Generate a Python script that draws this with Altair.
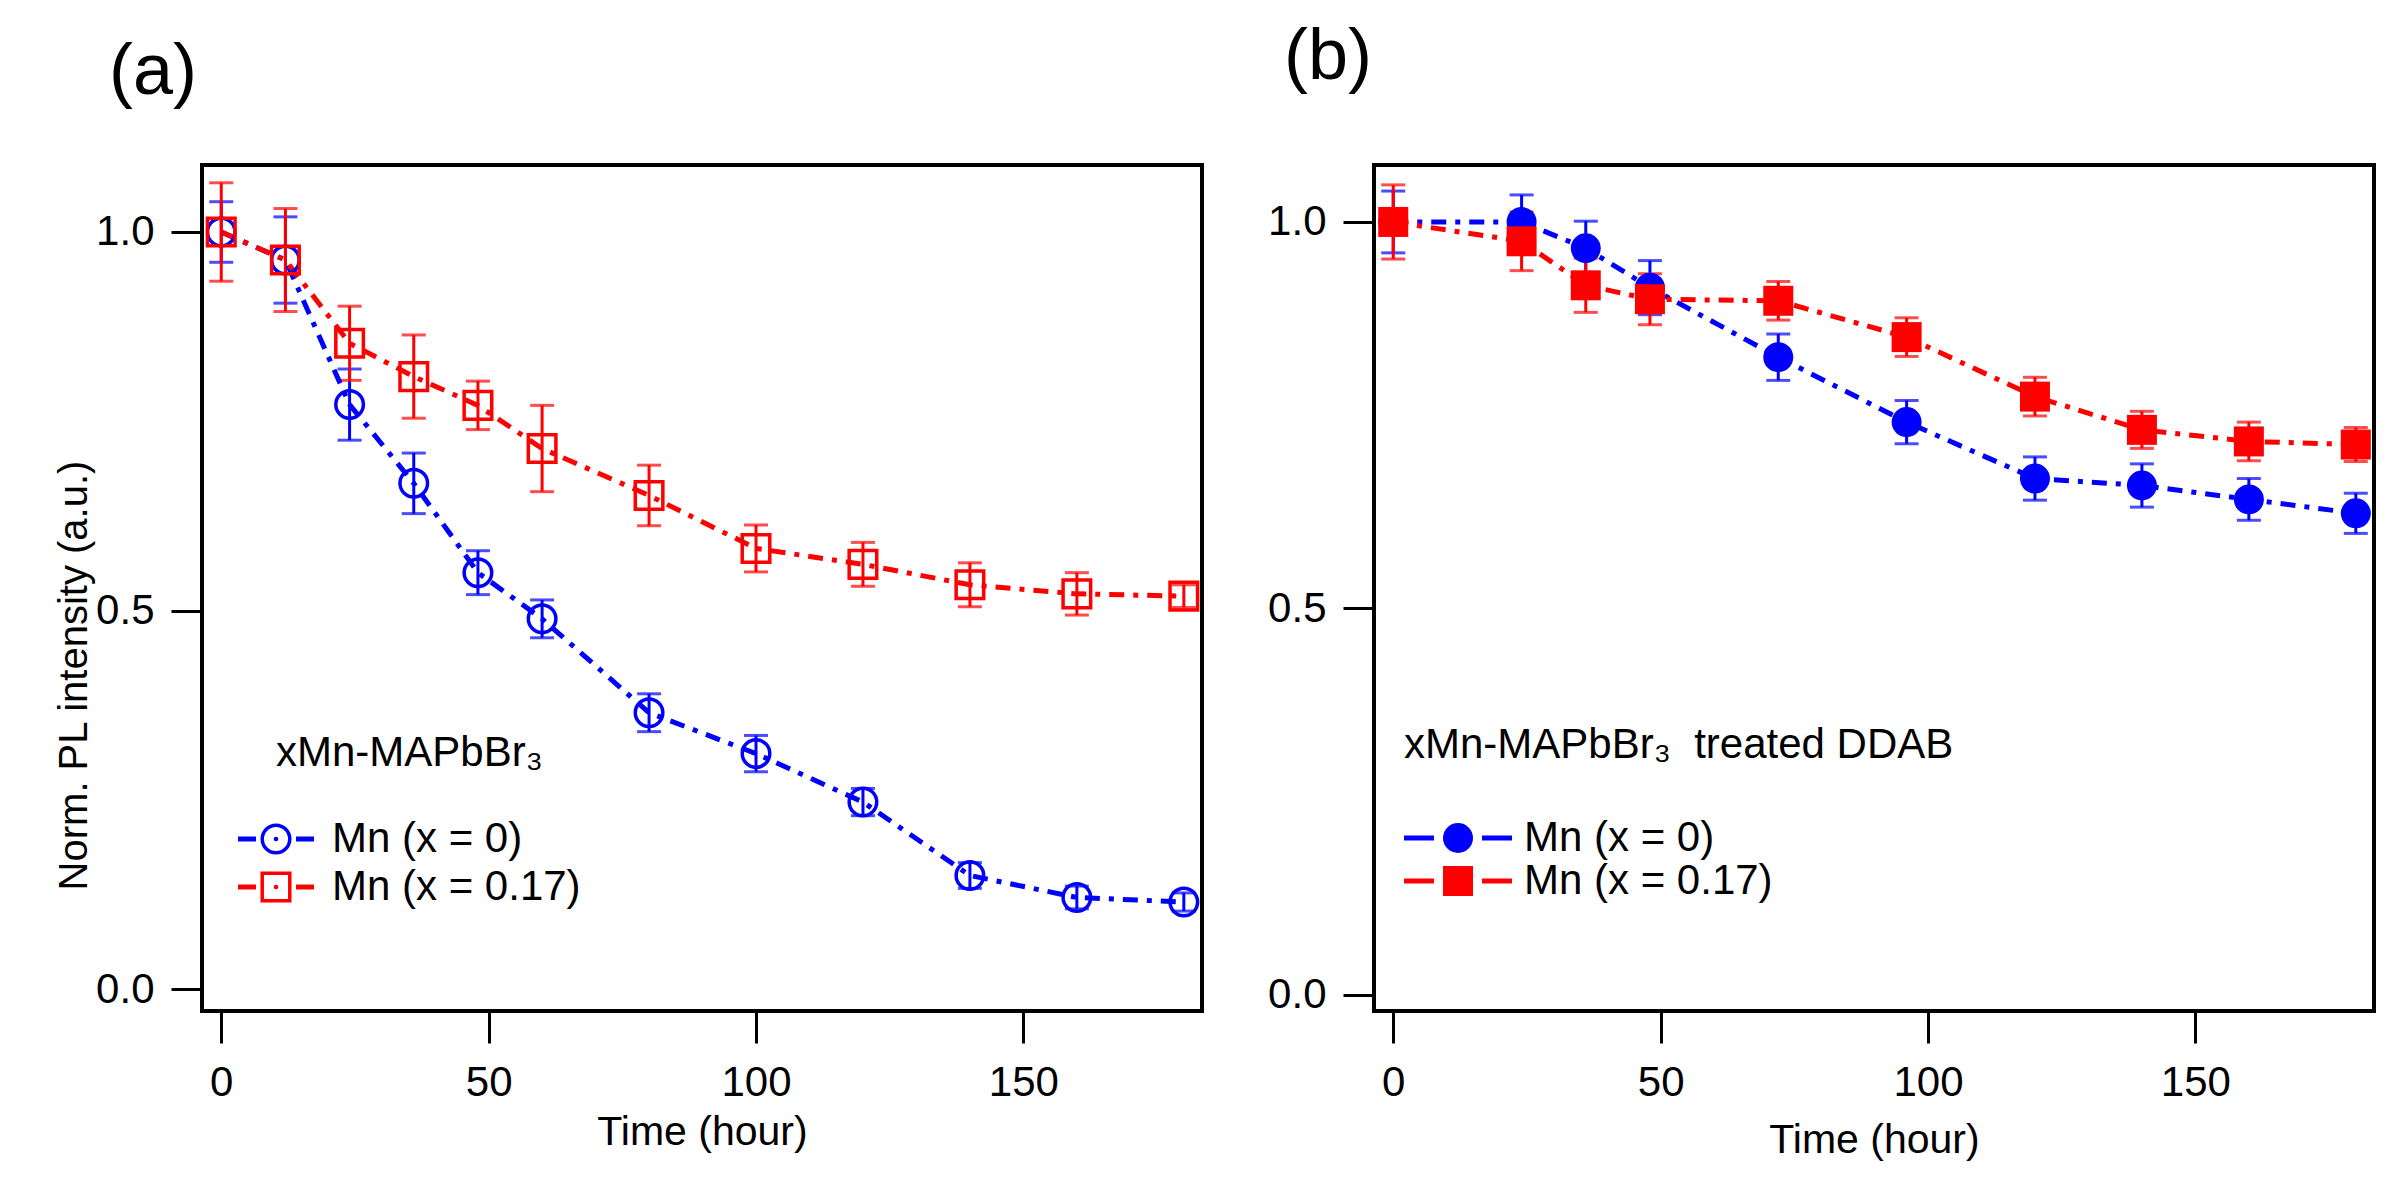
import altair as alt
import pandas as pd

FONT = "Liberation Sans"
BLUE = "#0000FF"
RED = "#FF0000"

series = ["Mn (x = 0)", "Mn (x = 0.17)"]

# ---- panel (a): xMn-MAPbBr3 ----
time_a = [0, 12, 24, 36, 48, 60, 80, 100, 120, 140, 160, 180]
a_mn0 = [1.0, 0.963, 0.772, 0.668, 0.550, 0.489, 0.365, 0.311, 0.247, 0.150, 0.121, 0.115]
a_mn0_err = [0.04, 0.057, 0.047, 0.040, 0.029, 0.025, 0.025, 0.024, 0.018, 0.017, 0.015, 0.012]
a_mn17 = [1.0, 0.963, 0.853, 0.809, 0.771, 0.714, 0.652, 0.582, 0.561, 0.534, 0.522, 0.519]
a_mn17_err = [0.065, 0.068, 0.049, 0.055, 0.032, 0.057, 0.040, 0.031, 0.029, 0.029, 0.028, 0.015]

# ---- panel (b): xMn-MAPbBr3 treated DDAB ----
time_b = [0, 24, 36, 48, 72, 96, 120, 140, 160, 180]
b_mn0 = [1.0, 1.0, 0.966, 0.915, 0.825, 0.741, 0.668, 0.659, 0.641, 0.623]
b_mn0_err = [0.04, 0.035, 0.035, 0.035, 0.030, 0.028, 0.028, 0.028, 0.027, 0.026]
b_mn17 = [1.0, 0.975, 0.918, 0.900, 0.898, 0.851, 0.774, 0.731, 0.716, 0.712]
b_mn17_err = [0.048, 0.038, 0.035, 0.033, 0.025, 0.025, 0.025, 0.024, 0.025, 0.022]

x_ticks = [0, 50, 100, 150]
y_ticks = [0.0, 0.5, 1.0]


def long_df(times, v0, e0, v17, e17):
    rows = []
    for t, v, e in zip(times, v0, e0):
        rows.append({"time": t, "value": v, "lo": v - e, "hi": v + e, "series": series[0]})
    for t, v, e in zip(times, v17, e17):
        rows.append({"time": t, "value": v, "lo": v - e, "hi": v + e, "series": series[1]})
    return pd.DataFrame(rows)


color_scale = alt.Scale(domain=series, range=[BLUE, RED])
one = pd.DataFrame({"k": [0]})


def legend_entry(label, color, shape, filled, msize, y, sym_l, sym_r, mx, tx, dash_gap, dot):
    layers = []
    layers.append(alt.Chart(one).mark_rule(strokeWidth=5, color=color).encode(
        x=alt.value(sym_l), x2=alt.value(mx - dash_gap), y=alt.value(y)))
    layers.append(alt.Chart(one).mark_rule(strokeWidth=5, color=color).encode(
        x=alt.value(mx + dash_gap), x2=alt.value(sym_r), y=alt.value(y)))
    layers.append(alt.Chart(one).mark_point(shape=shape, filled=filled, size=msize, strokeWidth=3.5,
                                            color=color, opacity=1).encode(
        x=alt.value(mx), y=alt.value(y)))
    if dot:
        layers.append(alt.Chart(one).mark_point(shape="circle", filled=True, size=22,
                                                color=color, opacity=1).encode(
            x=alt.value(mx), y=alt.value(y)))
    layers.append(alt.Chart(pd.DataFrame({"label": [label]})).mark_text(
        align="left", baseline="middle", font=FONT, fontSize=42, color="black").encode(
        text="label:N", x=alt.value(tx), y=alt.value(y)))
    return layers


def make_panel(df, ydomain, filled, leg_rows, leg_geom, msize,
               annot, annot_x, annot_y, label, label_x, label_y,
               ytitle, xtitle_y):
    x_axis = alt.Axis(values=x_ticks, format="d", title="Time (hour)", domain=False,
                      grid=False, tickSize=32, tickWidth=3, tickColor="black",
                      labelFont=FONT, labelFontSize=42, labelColor="black",
                      labelPadding=19, labelFlush=False,
                      titleFont=FONT, titleFontSize=41, titleFontWeight="normal",
                      titleColor="black", titleY=xtitle_y, titleBaseline="alphabetic")
    yaxis_kw = dict(values=y_ticks, format=".1f", domain=False, grid=False,
                    tickSize=31, tickWidth=3, tickColor="black",
                    labelFont=FONT, labelFontSize=42, labelColor="black",
                    labelPadding=17)
    if ytitle:
        y_axis = alt.Axis(title=ytitle, titleFont=FONT, titleFontSize=40,
                          titleFontWeight="normal", titleColor="black",
                          titleX=-128, titleY=510, titleAngle=270,
                          titleAlign="center", titleBaseline="middle", **yaxis_kw)
    else:
        y_axis = alt.Axis(title=None, **yaxis_kw)

    xs = alt.Scale(domain=[-3.6, 183.4], nice=False, zero=False)
    ys = alt.Scale(domain=ydomain, nice=False, zero=False)
    X = alt.X("time:Q", scale=xs, axis=x_axis)

    def Y(field):
        return alt.Y(field + ":Q", scale=ys, axis=y_axis)

    C = alt.Color("series:N", scale=color_scale, legend=None)
    base = alt.Chart(df)

    layers = []
    for s in series:
        sub = base.transform_filter(alt.datum.series == s)
        layers.append(sub.mark_rule(strokeWidth=3).encode(x=X, y=Y("lo"), y2="hi:Q", color=C))
        layers.append(sub.mark_tick(orient="horizontal", size=24, thickness=3).encode(x=X, y=Y("hi"), color=C))
        layers.append(sub.mark_tick(orient="horizontal", size=24, thickness=3).encode(x=X, y=Y("lo"), color=C))
    for s in series:
        sub = base.transform_filter(alt.datum.series == s)
        layers.append(sub.mark_line(strokeWidth=5, strokeDash=[15, 9, 5, 9]).encode(
            x=X, y=Y("value"), color=C, order="time:Q"))
    shapes = ["circle", "square"]
    for s, sh in zip(series, shapes):
        sub = base.transform_filter(alt.datum.series == s)
        layers.append(sub.mark_point(shape=sh, filled=filled, size=msize, strokeWidth=3.5,
                                     opacity=1).encode(x=X, y=Y("value"), color=C))

    # legend (drawn as marks inside the plot)
    sym_l, sym_r, mx, tx, gap = leg_geom
    for s, col, sh, yy in zip(series, [BLUE, RED], shapes, leg_rows):
        layers += legend_entry(s, col, sh, filled, msize, yy, sym_l, sym_r, mx, tx, gap, not filled)

    # annotation text
    layers.append(alt.Chart(pd.DataFrame({"t": [annot]})).mark_text(
        align="left", baseline="alphabetic", font=FONT, fontSize=42, color="black"
    ).encode(text="t:N", x=alt.value(annot_x), y=alt.value(annot_y)))

    # panel label
    layers.append(alt.Chart(pd.DataFrame({"t": [label]})).mark_text(
        align="left", baseline="alphabetic", font=FONT, fontSize=72, color="black"
    ).encode(text="t:N", x=alt.value(label_x), y=alt.value(label_y)))

    return alt.layer(*layers).properties(width=1000, height=846)


df_a = long_df(time_a, a_mn0, a_mn0_err, a_mn17, a_mn17_err)
df_b = long_df(time_b, b_mn0, b_mn0_err, b_mn17, b_mn17_err)

panel_a = make_panel(df_a, [-0.029, 1.0885], False, [674, 722], (36, 112, 74, 130, 20), 760,
                     "xMn-MAPbBr\u2083", 74, 601, "(a)", -93, -71,
                     "Norm. PL intensity (a.u.)", 133)
panel_b = make_panel(df_b, [-0.021, 1.0737], True, [673, 716], (30, 138, 84, 150, 24), 900,
                     "xMn-MAPbBr\u2083\u00a0 treated DDAB", 30, 593, "(b)", -90, -86,
                     None, 141)

chart = alt.hconcat(panel_a, panel_b, spacing=172, bounds="flush").properties(
    padding={"left": 44, "top": 11, "right": 5, "bottom": 5}
).configure(background="white").configure_view(stroke="black", strokeWidth=4)

chart.save("out.html", embed_options={"renderer": "svg", "actions": False})
